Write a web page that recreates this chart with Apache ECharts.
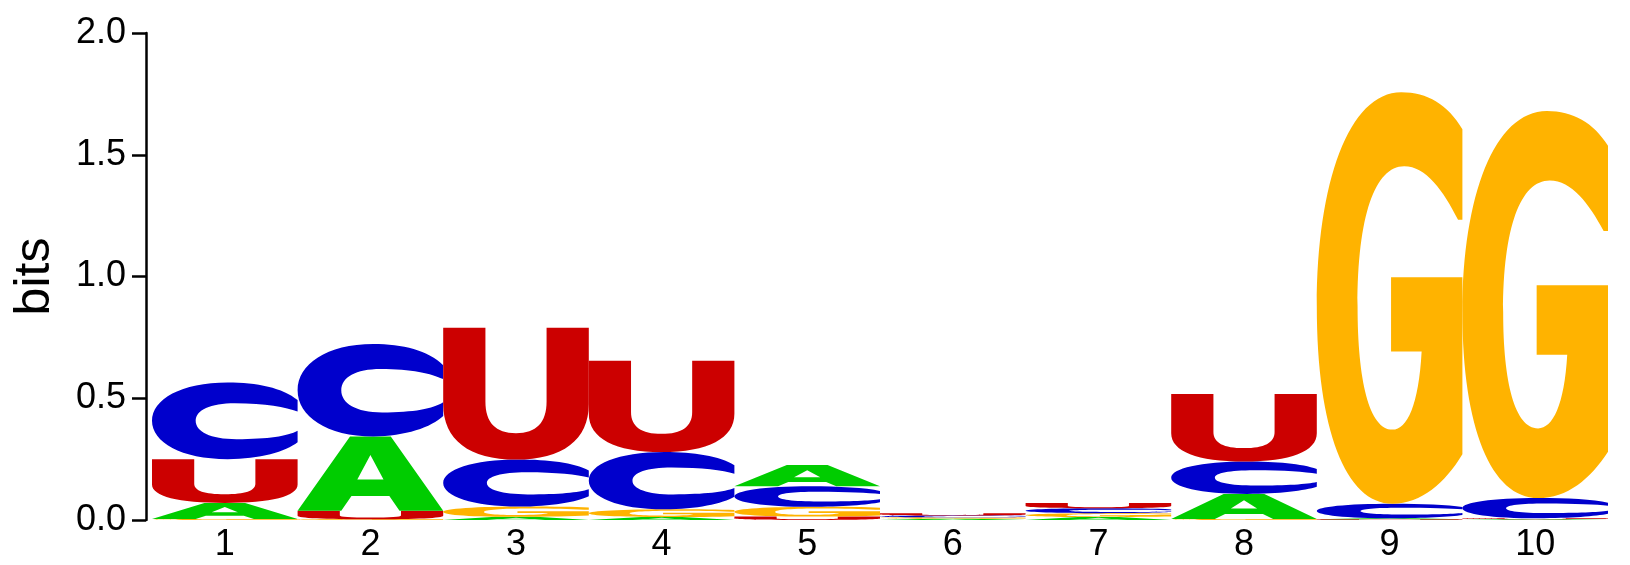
<!DOCTYPE html>
<html>
<head>
<meta charset="utf-8">
<script src="https://cdn.jsdelivr.net/npm/echarts@6/dist/echarts.min.js"></script>
<style>
  html, body { margin: 0; padding: 0; background: #ffffff; }
  #chart { width: 1630px; height: 565px; }
</style>
</head>
<body>
<div id="chart"></div>
<script>
// Sequence positions (x axis categories)
const positions = ['1', '2', '3', '4', '5', '6', '7', '8', '9', '10'];
// Letters and their information content (bits) at each position
const letters = ['A', 'C', 'G', 'U'];
const bitsA = [0.066, 0.305, 0.013, 0.012, 0.087, 0.005, 0.012, 0.103, 0.004, 0.003];
const bitsC = [0.315, 0.380, 0.193, 0.235, 0.085, 0.007, 0.020, 0.133, 0.060, 0.083];
const bitsG = [0.004, 0.003, 0.042, 0.032, 0.040, 0.006, 0.016, 0.004, 1.690, 1.590];
const bitsU = [0.180, 0.035, 0.542, 0.375, 0.014, 0.010, 0.022, 0.277, 0.003, 0.004];
// Y-axis ticks
const yTicks = [0, 0.5, 1.0, 1.5, 2.0];

const letterColors = { A: '#00cc00', C: '#0000cc', G: '#ffb300', U: '#cc0000' };
// glyph outlines in a 100x100 box, stretched to each stack slot
const glyphs = {
  A: 'M0,100 L36,0 L64,0 L100,100 L70,100 L63,80 L37,80 L30,100 Z M41,58 L59,58 L50,25 Z',
  C: 'M100,23 C90,7 72,0 52,0 C20,0 0,22 0,50 C0,78 20,100 52,100 C74,100 92,90 100,78 L100,63 C93,70 80,74 58,74 C40,74 30,64 30,50 C30,36 40,27 57,27 C78,27 92,32 100,38 Z',
  G: 'M100,9 C90,3 76,0 58,0 C22,0 0,22 0,52 C0,82 20,100 52,100 C72,100 88,95 100,88 L100,45 L51,45 L51,63 L72,63 C70,76 62,82 52,82 C36,82 28,70 28,52 C28,30 40,18 60,18 C75,18 87,24 97,31 L100,31 Z',
  U: 'M0,0 L29,0 L29,56 C29,72 36,80 50,80 C64,80 71,72 71,56 L71,0 L100,0 L100,58 C100,85 82,100 50,100 C18,100 0,85 0,58 Z'
};

const bitsByLetter = { A: bitsA, C: bitsC, G: bitsG, U: bitsU };
const stackData = [];
positions.forEach(function (p, i) {
  const col = letters.map(function (l, li) { return { li: li, v: bitsByLetter[l][i] }; });
  col.sort(function (a, b) { return a.v - b.v; });
  let base = 0;
  col.forEach(function (c) {
    stackData.push([i, base, base + c.v, c.li]);
    base += c.v;
  });
});

const chart = echarts.init(document.getElementById('chart'), null, { renderer: 'canvas' });
chart.setOption({
  animation: false,
  backgroundColor: '#ffffff',
  grid: { left: 152, right: 22, top: 33, bottom: 45, containLabel: false, outerBoundsMode: 'none' },
  xAxis: {
    type: 'category',
    data: positions,
    boundaryGap: true,
    axisLine: { show: false },
    axisTick: { show: false },
    axisLabel: { color: '#000', fontFamily: 'Liberation Sans', fontSize: 36, margin: 7 },
    splitLine: { show: false }
  },
  yAxis: {
    type: 'value',
    min: yTicks[0],
    max: yTicks[yTicks.length - 1],
    interval: 0.5,
    offset: 6,
    name: 'bits',
    nameLocation: 'middle',
    nameGap: 86,
    nameTextStyle: { color: '#000', fontFamily: 'Liberation Sans', fontSize: 50 },
    axisLine: { show: true, lineStyle: { color: '#000', width: 2.5 } },
    axisTick: { show: true, length: 14, lineStyle: { color: '#000', width: 2.5 } },
    axisLabel: {
      color: '#000', fontFamily: 'Liberation Sans', fontSize: 36, margin: 20,
      formatter: function (v) { return v.toFixed(1); }
    },
    splitLine: { show: false }
  },
  series: [{
    type: 'custom',
    data: stackData,
    encode: { x: 0, y: [1, 2] },
    renderItem: function (params, api) {
      const xi = api.value(0), y0 = api.value(1), y1 = api.value(2), li = api.value(3);
      const top = api.coord([xi, y1]);
      const bot = api.coord([xi, y0]);
      const w = api.size([1, 0])[0];
      const h = bot[1] - top[1];
      if (!(h > 0)) return null;
      const l = letters[li];
      return {
        type: 'path',
        shape: { pathData: glyphs[l], x: top[0] - w / 2, y: top[1], width: w, height: h, layout: 'cover' },
        style: { fill: letterColors[l] }
      };
    }
  }]
});
</script>
</body>
</html>
